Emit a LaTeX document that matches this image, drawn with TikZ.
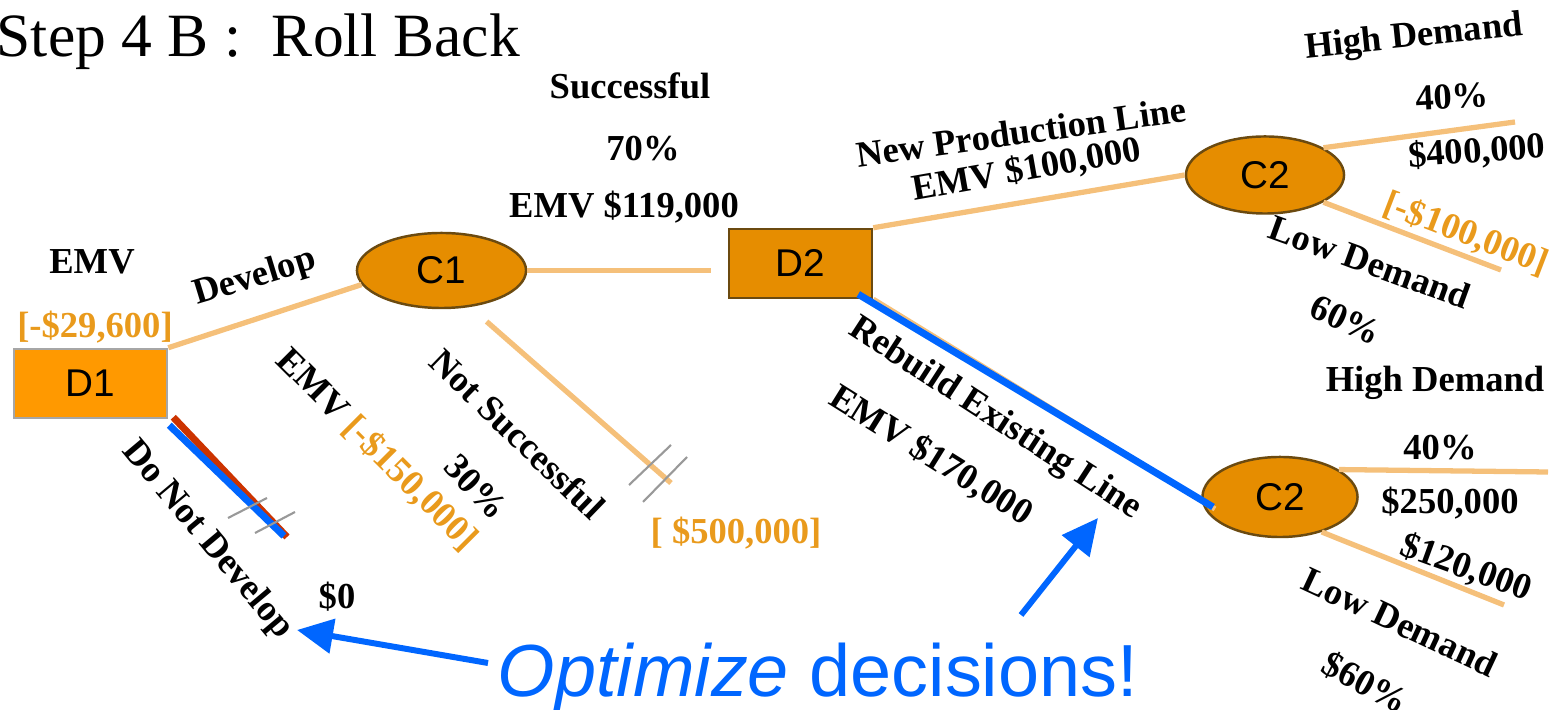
\documentclass[tikz,border=0pt]{standalone}
\usepackage{fontspec}
\setmainfont{Liberation Serif}
\newfontfamily\arialfam{Liberation Sans}
\usetikzlibrary{shapes.geometric,arrows.meta,calc}

\definecolor{nodeorange}{HTML}{E68D00}
\definecolor{brightorange}{HTML}{FF9900}
\definecolor{branchorange}{HTML}{F5C07A}
\definecolor{valueorange}{HTML}{E99A1C}
\definecolor{optblue}{HTML}{0066FF}
\definecolor{cutred}{HTML}{CC3300}
\definecolor{edgebrown}{HTML}{6B4A10}

\begin{document}
\begin{tikzpicture}[x=0.01cm,y=-0.01cm,
  branch/.style={draw=branchorange,line width=1.5pt},
  lbl/.style={font=\fontsize{10.4}{12}\selectfont\bfseries,inner sep=0pt},
  val/.style={lbl,text=valueorange},
  decbox/.style={rectangle,draw=edgebrown,line width=0.7pt,inner sep=0pt,
    minimum height=0.69cm,font=\arialfam\fontsize{11}{13}\selectfont},
  chance/.style={ellipse,fill=nodeorange,draw=edgebrown,line width=0.7pt,
    inner sep=0pt,font=\arialfam\fontsize{11}{13}\selectfont},
  cutmark/.style={draw=gray!80,line width=0.6pt},
  optarrow/.style={draw=optblue,line width=1.7pt,-{Triangle[length=0.36cm,width=0.34cm]}},
  optpath/.style={draw=optblue,line width=2pt}
]
\useasboundingbox (0,0) rectangle (1554,710);

% title
\node[anchor=base west,font=\fontsize{17.5}{20}\selectfont,inner sep=0pt] (title) at (-4,57) {Step 4 B :\ \ Roll Back};

% decision and chance nodes
\node[decbox,fill=brightorange,draw=gray!70,minimum width=1.53cm] (D1) at (90.5,383.5) {D1};
\node[chance,minimum width=1.69cm,minimum height=0.75cm] (C1) at (441.5,270.5) {C1};
\node[decbox,fill=nodeorange,minimum width=1.43cm] (D2) at (800.5,263.5) {D2};
\node[chance,minimum width=1.58cm,minimum height=0.77cm] (C2a) at (1265,175) {C2};
\node[chance,minimum width=1.55cm,minimum height=0.80cm] (C2b) at (1280,497) {C2};

% free ends of the terminal branches
\coordinate (nsEnd) at (671,483);
\coordinate (dnEnd) at (284,536);
\coordinate (haEnd) at (1515,122);
\coordinate (laEnd) at (1501,270);
\coordinate (hbEnd) at (1548,472);
\coordinate (lbEnd) at (1504,605);

% branches
\draw[branch] (D1.north east) -- (C1.190);
\draw[branch,shorten >=0.17cm] (C1.east) -- (C1.east -| D2.west);
\draw[branch,shorten <=0.22cm] (C1.-52) -- (nsEnd);
\draw[branch] (D2.north east) -- (C2a.west);
\draw[branch] (D2.south east) -- ($(C2b.center)+(-65,12)$);
\draw[branch] (C2a.25) -- (haEnd);
\draw[branch] (C2a.-25) -- (laEnd);
\draw[branch] (C2b.25) -- (hbEnd);
\draw[branch] (C2b.-40) -- (lbEnd);

% pruned branch and chosen path
\draw[cutred,line width=2pt] ($(D1.south east)+(5,-2)$) -- ($(dnEnd)+(3,1)$);
\draw[optpath] ($(D1.south east)+(1,6)$) -- (dnEnd);
\draw[optpath] ($(D2.south east)+(-15,-5)$) -- ($(C2b.center)+(-67,10)$);

% cut marks at the ends of rejected branches
\draw[cutmark] ($(nsEnd)+(-42,2)$) -- ++(42,-40);
\draw[cutmark] ($(nsEnd)+(-28,19)$) -- ++(44,-45);
\draw[cutmark] ($(dnEnd)+(-56,-18)$) -- ++(39,-20);
\draw[cutmark] ($(dnEnd)+(-29,-3)$) -- ++(40,-21);

% labels around D1
\node[lbl] (emvD1) at (92,262) {EMV};
\node[val] (valD1) at (95,327) {[-\$29,600]};
\node[lbl,rotate=17] (develop) at (255,278) {Develop};
\node[lbl,rotate=-50] (dnd) at (207,540) {Do Not Develop};
\node[lbl] (zero) at (337,597) {\$0};

% labels around C1
\node[lbl,rotate=-45] (emvC1) at (377,450) {EMV \textcolor{valueorange}{[-\$150,000]}};
\node[lbl,rotate=-46] (p30) at (476,487) {30\%};
\node[lbl,rotate=-44] (notsucc) at (518,434) {Not Successful};
\node[val] (valNS) at (736,533) {[ \$500,000]};
\node[lbl] (succ) at (630,86) {Successful};
\node[lbl] (p70) at (643,149) {70\%};
\node[lbl] (emvD2) at (624,207) {EMV \$119,000};

% labels around D2
\node[lbl,rotate=8] (newline) at (1021,132) {New Production Line};
\node[lbl,rotate=10] (emvNew) at (1027,170) {EMV \$100,000};
\node[lbl,rotate=-33] (rebuild) at (995,419) {Rebuild Existing Line};
\node[lbl,rotate=-32] (emvReb) at (931,456) {EMV \$170,000};

% labels around the upper C2
\node[lbl,rotate=6] (hdA) at (1414,38) {High Demand};
\node[lbl,rotate=3] (p40A) at (1452,97) {40\%};
\node[lbl,rotate=4] (v400) at (1477,152) {\$400,000};
\node[val,rotate=-21] (vm100) at (1466,234) {[-\$100,000]};
\node[lbl,rotate=-20] (ldA) at (1370,262) {Low Demand};
\node[lbl,rotate=-25] (p60A) at (1346,320) {60\%};

% labels around the lower C2
\node[lbl] (hdB) at (1435,383) {High Demand};
\node[lbl] (p40B) at (1440,448) {40\%};
\node[lbl] (v250) at (1450,503) {\$250,000};
\node[lbl,rotate=-20] (v120) at (1466,568) {\$120,000};
\node[lbl,rotate=-25] (ldB) at (1400,622) {Low Demand};
\node[lbl,rotate=-28] (p60B) at (1365,683) {\$60\%};

% call-out
\node[anchor=base west,text=optblue,font=\arialfam\fontsize{21}{25}\selectfont,inner sep=0pt] (opt) at (497,697) {\textit{Optimize} decisions!};
\coordinate (tailA) at (488,663);
\coordinate (tipA) at (297,630);
\coordinate (tailB) at (1021,615);
\coordinate (tipB) at (1098,518);
\draw[optarrow] (tailA) -- (tipA);
\draw[optarrow] (tailB) -- (tipB);
\end{tikzpicture}
\end{document}
